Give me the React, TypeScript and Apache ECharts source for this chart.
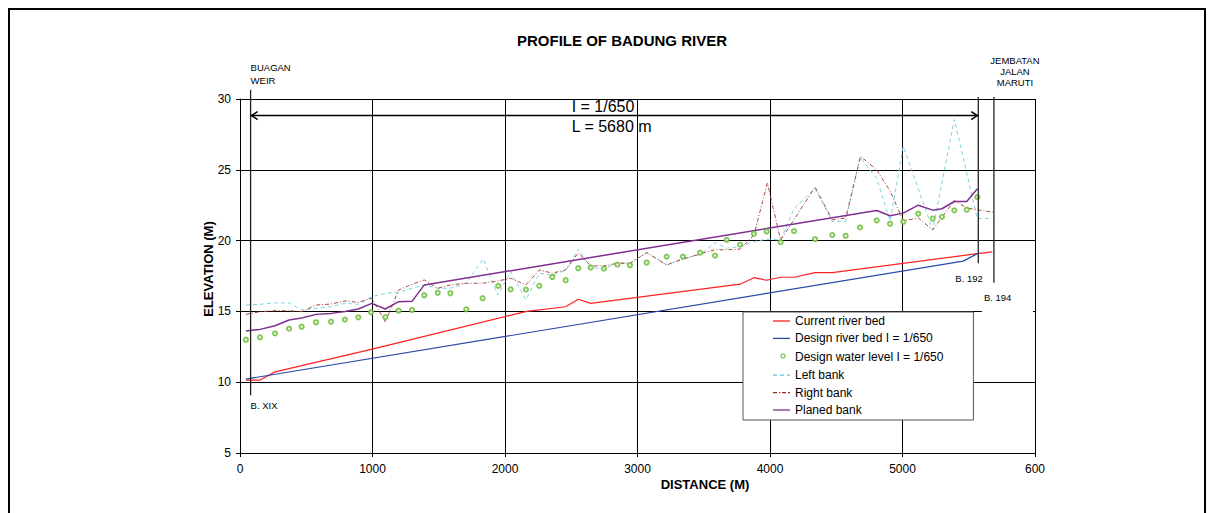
import React, { useEffect, useRef } from 'react';
import * as echarts from 'echarts';

// ---- Data (distance in m, elevation in m) ----
const chartTitle = 'PROFILE OF BADUNG RIVER';
const xAxisTitle = 'DISTANCE (M)';
const yAxisTitle = 'ELEVATION (M)';

const currentBedX = [45, 151, 264, 998, 2164, 2458, 2553, 2647, 3774, 3879, 3975, 4080, 4181, 4340, 4470, 5565, 5678];
const currentBedY = [10.15, 10.15, 10.73, 12.34, 15.0, 15.33, 15.86, 15.57, 16.92, 17.38, 17.2, 17.41, 17.41, 17.74, 17.74, 19.08, 19.2];

const designBedX = [45, 5458, 5565];
const designBedY = [10.22, 18.55, 19.08];

const waterLevelX = [45, 151, 264, 370, 465, 574, 687, 792, 893, 989, 1097, 1197, 1298, 1391, 1492, 1588, 1708, 1831, 1949, 2043, 2158, 2259, 2357, 2458, 2553, 2647, 2747, 2848, 2943, 3069, 3220, 3343, 3472, 3585, 3673, 3774, 3879, 3975, 4080, 4181, 4340, 4470, 4571, 4679, 4805, 4906, 5006, 5119, 5228, 5298, 5391, 5485, 5565];
const waterLevelY = [13.0, 13.17, 13.45, 13.78, 13.92, 14.23, 14.27, 14.42, 14.58, 14.94, 14.6, 15.05, 15.1, 16.14, 16.32, 16.28, 15.15, 15.93, 16.8, 16.56, 16.54, 16.8, 17.43, 17.2, 18.05, 18.1, 18.02, 18.3, 18.26, 18.45, 18.87, 18.87, 19.15, 18.94, 20.05, 19.72, 20.48, 20.64, 19.89, 20.67, 20.1, 20.39, 20.34, 20.93, 21.42, 21.19, 21.33, 21.9, 21.56, 21.68, 22.13, 22.18, 23.07];

const leftBankX = [45, 151, 264, 370, 465, 574, 687, 792, 893, 994, 1097, 1197, 1298, 1391, 1492, 1588, 1708, 1836, 1945, 2043, 2158, 2259, 2357, 2458, 2553, 2647, 2747, 2848, 2943, 3069, 3220, 3343, 3472, 3585, 3673, 3774, 3879, 3975, 4080, 4181, 4340, 4470, 4571, 4679, 4805, 4906, 5006, 5228, 5391, 5565, 5678];
const leftBankY = [15.45, 15.5, 15.6, 15.6, 15.1, 15.22, 15.33, 15.57, 15.5, 16.04, 16.28, 16.35, 16.63, 16.87, 16.63, 16.63, 16.99, 18.71, 16.16, 17.8, 15.83, 17.7, 17.55, 17.9, 19.39, 18.1, 18.0, 18.45, 18.4, 19.15, 18.28, 18.76, 18.99, 19.86, 19.46, 19.58, 19.93, 20.1, 20.05, 22.25, 23.68, 21.35, 21.37, 25.9, 24.4, 21.4, 26.66, 20.76, 28.55, 21.54, 21.59];

const rightBankX = [45, 151, 264, 370, 465, 574, 687, 792, 893, 994, 1097, 1197, 1298, 1391, 1492, 1588, 1708, 1836, 1945, 2043, 2158, 2259, 2357, 2458, 2553, 2647, 2747, 2848, 2943, 3069, 3220, 3343, 3472, 3585, 3673, 3774, 3879, 3980, 4080, 4181, 4340, 4470, 4571, 4684, 4805, 4906, 5006, 5119, 5228, 5391, 5485, 5565, 5683];
const rightBankY = [14.79, 14.98, 15.05, 15.05, 14.98, 15.45, 15.52, 15.74, 15.64, 15.93, 14.27, 16.51, 16.92, 17.22, 16.63, 16.87, 16.99, 16.99, 17.15, 17.34, 16.87, 17.93, 17.7, 17.93, 19.15, 18.21, 18.21, 18.4, 18.4, 19.15, 18.28, 18.69, 19.06, 19.35, 19.35, 19.4, 20.4, 24.07, 20.05, 21.47, 23.78, 21.47, 21.59, 25.95, 25.0, 23.5, 21.4, 21.6, 20.76, 22.83, 22.3, 22.18, 22.0];

const planedBankX = [45, 151, 264, 370, 465, 574, 687, 792, 893, 994, 1097, 1197, 1298, 1391, 4805, 4906, 5006, 5119, 5228, 5298, 5391, 5485, 5565];
const planedBankY = [13.61, 13.73, 13.99, 14.39, 14.53, 14.79, 14.86, 15.0, 15.17, 15.57, 15.17, 15.69, 15.71, 16.87, 22.13, 21.75, 21.94, 22.5, 22.15, 22.25, 22.76, 22.76, 23.66];

const seriesNames = [
  'Current river bed',
  'Design river bed I = 1/650',
  'Design water level I = 1/650',
  'Left bank',
  'Right bank',
  'Planed bank',
];

// annotation positions (data units)
const weirX = 80;
const b192X = 5572;
const b194X = 5690;
const arrowElev = 28.83;
const slopeText = ['I = 1/650', 'L = 5680 m'];
const slopeTextX = 2503;
const slopeTextElev = [29.46, 28.07];

const FONT = '"Liberation Sans", Arial, sans-serif';

const ICON_SOLID = 'path://M0,0h17v1.3h-17z';
const ICON_DASH = 'path://M0,0h4v1.3h-4z M7,0h4v1.3h-4z M14,0h3v1.3h-3z';
const ICON_DASHDOT = 'path://M0,0h4v1.3h-4z M6,0h1.3v1.3h-1.3z M9,0h4v1.3h-4z M15,0h2v1.3h-2z';

const pairs = (xs: number[], ys: number[]) => xs.map((x, i) => [x, ys[i]]);

export default function App() {
  const ref = useRef<HTMLDivElement>(null);
  useEffect(() => {
    if (!ref.current) return;
    const chart = echarts.init(ref.current, null, { renderer: 'svg' });
    chart.setOption({
      animation: false,
      backgroundColor: '#fff',
      textStyle: { fontFamily: FONT },
      grid: { left: 240, top: 99, width: 795, height: 354, show: false },
      xAxis: {
        type: 'value',
        min: 0,
        max: 6000,
        interval: 1000,
        axisLine: { show: true, lineStyle: { color: '#000', width: 1 } },
        axisTick: { show: true, length: 4, lineStyle: { color: '#000' } },
        axisLabel: {
          color: '#000',
          fontSize: 12,
          fontFamily: FONT,
          margin: 10,
          formatter: (v: number) => (v === 6000 ? '600' : String(v)),
        },
        splitLine: { show: true, lineStyle: { color: '#000', width: 1 } },
      },
      yAxis: {
        type: 'value',
        min: 5,
        max: 30,
        interval: 5,
        axisLine: { show: true, lineStyle: { color: '#000', width: 1 } },
        axisTick: { show: true, length: 4, lineStyle: { color: '#000' } },
        axisLabel: { color: '#000', fontSize: 12, fontFamily: FONT, margin: 9 },
        splitLine: { show: true, lineStyle: { color: '#000', width: 1 } },
      },
      legend: {
        orient: 'vertical',
        left: 743,
        top: 312,
        padding: [3, 30, 4, 30],
        itemWidth: 17,
        itemHeight: 12,
        itemGap: 5.4,
        backgroundColor: '#fff',
        borderColor: '#555',
        borderWidth: 1,
        selectedMode: false,
        symbolKeepAspect: true,
        textStyle: { fontSize: 12, color: '#000', fontFamily: FONT },
        data: [
          { name: seriesNames[0], icon: ICON_SOLID, itemStyle: { color: '#ff2020', borderWidth: 0 } },
          { name: seriesNames[1], icon: ICON_SOLID, itemStyle: { color: '#2a4aa8', borderWidth: 0 } },
          { name: seriesNames[2], itemStyle: { opacity: 0 } },
          { name: seriesNames[3], icon: ICON_DASH, itemStyle: { color: '#5cc8dc', borderWidth: 0 } },
          { name: seriesNames[4], icon: ICON_DASHDOT, itemStyle: { color: '#992a1a', borderWidth: 0 } },
          { name: seriesNames[5], icon: ICON_SOLID, itemStyle: { color: '#7f2f8f', borderWidth: 0 } },
        ],
      },
      series: [
        {
          name: seriesNames[0],
          type: 'line',
          data: pairs(currentBedX, currentBedY),
          symbol: 'none',
          lineStyle: { color: '#ff2020', width: 1.2 },
          itemStyle: { color: '#ff2020' },
          z: 3,
        },
        {
          name: seriesNames[1],
          type: 'line',
          data: pairs(designBedX, designBedY),
          symbol: 'none',
          lineStyle: { color: '#2a4aa8', width: 1.2 },
          itemStyle: { color: '#2a4aa8' },
          z: 3,
        },
        {
          name: seriesNames[2],
          type: 'scatter',
          data: pairs(waterLevelX, waterLevelY),
          symbol: 'emptyCircle',
          symbolSize: 4.2,
          itemStyle: { color: '#66bb33', borderColor: '#66bb33', borderWidth: 1 },
          z: 5,
        },
        {
          name: seriesNames[3],
          type: 'line',
          data: pairs(leftBankX, leftBankY),
          symbol: 'none',
          lineStyle: { color: '#7fd3e3', width: 1, type: [4, 3] },
          itemStyle: { color: '#7fd3e3' },
          z: 3,
        },
        {
          name: seriesNames[4],
          type: 'line',
          data: pairs(rightBankX, rightBankY),
          symbol: 'none',
          lineStyle: { color: '#a84a3a', width: 1, type: [4, 2, 1, 2] },
          itemStyle: { color: '#a84a3a' },
          z: 3,
        },
        {
          name: seriesNames[5],
          type: 'line',
          data: pairs(planedBankX, planedBankY),
          symbol: 'none',
          lineStyle: { color: '#7f2f8f', width: 1.5 },
          itemStyle: { color: '#7f2f8f' },
          z: 4,
        },
      ],
    });

    const P = (x: number, y: number) => chart.convertToPixel({ gridIndex: 0 }, [x, y]) as number[];
    const g: any[] = [];
    const txt = (x: number, y: number, text: string, opts: any = {}) => ({
      type: 'text',
      x,
      y,
      z: 100,
      silent: true,
      rotation: opts.rotation || 0,
      style: {
        text,
        fill: '#000',
        fontSize: opts.fontSize || 9.5,
        fontWeight: opts.fontWeight || 'normal',
        fontFamily: FONT,
        align: opts.align || 'left',
        verticalAlign: opts.verticalAlign || 'middle',
        lineHeight: opts.lineHeight,
      },
    });
    const vline = (x: number, top: number, bottom: number) => {
      const a = P(x, top);
      const b = P(x, bottom);
      return {
        type: 'line',
        z: 60,
        silent: true,
        shape: { x1: a[0], y1: a[1], x2: b[0], y2: b[1] },
        style: { stroke: '#222', lineWidth: 1.3 },
      };
    };

    // outer frame
    g.push({
      type: 'rect',
      z: 100,
      silent: true,
      shape: { x: 9, y: 9, width: 1196, height: 520 },
      style: { fill: 'none', stroke: '#000', lineWidth: 2 },
    });
    // title and axis names
    g.push(txt(622, 40, chartTitle, { fontSize: 15, fontWeight: 'bold', align: 'center' }));
    g.push(txt(705, 484, xAxisTitle, { fontSize: 13, fontWeight: 'bold', align: 'center' }));
    g.push(txt(208, 269, yAxisTitle, { fontSize: 13, fontWeight: 'bold', align: 'center', rotation: Math.PI / 2 }));

    // marker lines
    g.push(vline(weirX, 30.65, 9.08));
    g.push(vline(b192X, 30.15, 18.4));
    g.push(vline(b194X, 30.15, 17.03));

    // arrow
    const aL = P(weirX, arrowElev);
    const aR = P(b192X, arrowElev);
    g.push({
      type: 'line',
      z: 60,
      silent: true,
      shape: { x1: aL[0], y1: aL[1], x2: aR[0], y2: aR[1] },
      style: { stroke: '#000', lineWidth: 1.5 },
    });
    g.push({
      type: 'polyline',
      z: 60,
      silent: true,
      shape: { points: [[aL[0] + 7, aL[1] - 4], [aL[0] + 1, aL[1]], [aL[0] + 7, aL[1] + 4]] },
      style: { stroke: '#000', lineWidth: 1.5, fill: 'none' },
    });
    g.push({
      type: 'polyline',
      z: 60,
      silent: true,
      shape: { points: [[aR[0] - 7, aR[1] - 4], [aR[0] - 1, aR[1]], [aR[0] - 7, aR[1] + 4]] },
      style: { stroke: '#000', lineWidth: 1.5, fill: 'none' },
    });

    // slope texts
    slopeText.forEach((t, i) => {
      const p = P(slopeTextX, slopeTextElev[i]);
      g.push(txt(p[0], p[1], t, { fontSize: 16 }));
    });

    // location labels
    const w = P(weirX, 30);
    g.push(txt(w[0], w[1] - 25, 'BUAGAN\nWEIR', { lineHeight: 12.5 }));
    const wx = P(weirX, 8.38);
    g.push(txt(wx[0], wx[1], 'B. XIX'));
    const p192 = P(b192X, 17.29);
    g.push(txt(p192[0] - 23, p192[1], 'B. 192'));
    const p194 = P(b194X, 16.0);
    g.push({
      type: 'rect',
      z: 90,
      silent: true,
      shape: { x: p194[0] - 12, y: p194[1] - 10, width: 51, height: 28 },
      style: { fill: '#fff' },
    });
    g.push(txt(p194[0] - 10, p194[1], 'B. 194'));
    const jm = P(b194X, 30);
    g.push(txt(jm[0] + 21, jm[1] - 28, 'JEMBATAN\nJALAN\nMARUTI', { align: 'center', lineHeight: 11 }));

    // legend marker for the water-level circles
    g.push({
      type: 'circle',
      z: 100,
      silent: true,
      x: 783,
      y: 356,
      shape: { cx: 0, cy: 0, r: 2 },
      style: { fill: '#fff', stroke: '#66bb33', lineWidth: 1.1 },
    });

    chart.setOption({ graphic: g });
    return () => chart.dispose();
  }, []);
  return <div ref={ref} style={{ position: 'fixed', left: 0, top: 0, width: 1214, height: 513 }} />;
}
